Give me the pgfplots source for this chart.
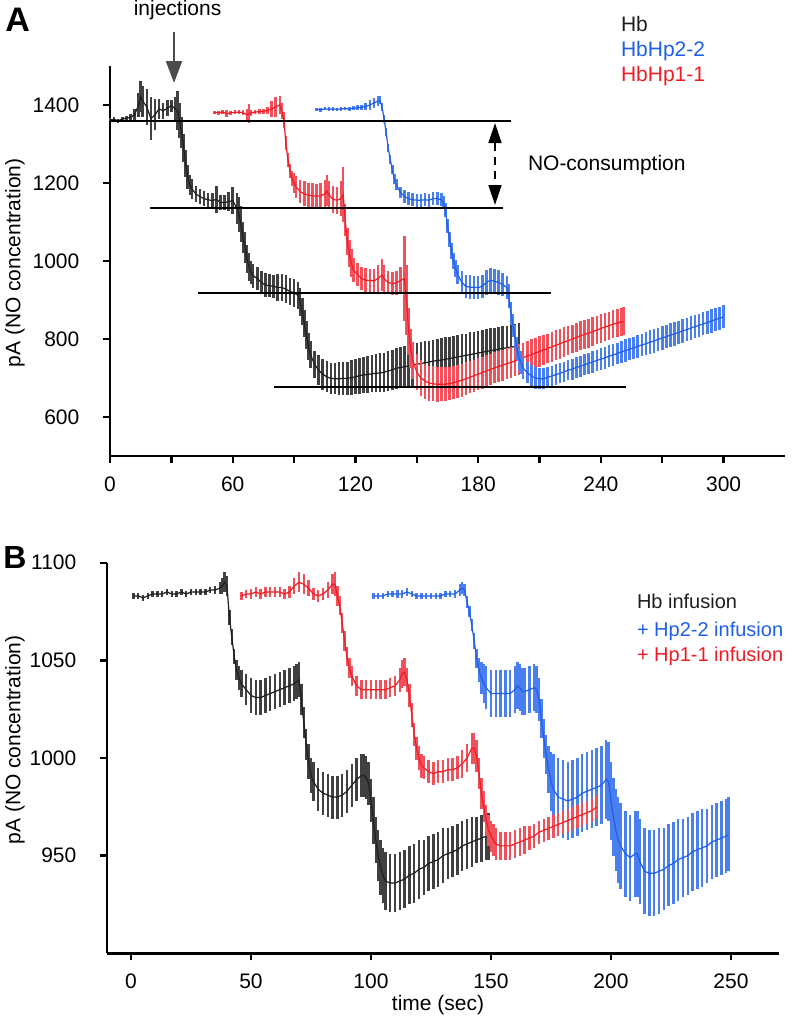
\documentclass[border=0pt]{standalone}
\usepackage{pgfplots}
\pgfplotsset{compat=1.18}
\usepackage{pgfplotstable}
\usepackage{fontspec}
\setmainfont{Liberation Sans}
\usetikzlibrary{arrows.meta}

\definecolor{hbk}{HTML}{1E1E1E}
\definecolor{hbkbar}{HTML}{404040}
\definecolor{hred}{HTML}{EE1C25}
\definecolor{hredbar}{HTML}{F2515B}
\definecolor{hblue}{HTML}{1F5FE6}
\definecolor{hbluebar}{HTML}{4A7FF0}

% panel A: Hb, HbHp2-2, HbHp1-1 (t, mean, error)
\pgfplotstableread[row sep=\\]{
t v e\\
0 1362 4\\ 2 1363 5\\ 4 1360 5\\ 6 1364 6\\ 8 1366 6\\ 10 1368 8\\ 12 1375 15\\ 14 1400 30\\ 15 1421 40\\ 16 1410 40\\
18 1395 45\\ 20 1365 55\\ 22 1375 40\\ 24 1390 25\\ 26 1385 20\\ 28 1392 20\\ 30 1398 15\\ 32 1390 30\\ 33 1385 50\\ 34 1360 45\\
35 1330 40\\ 36 1290 35\\ 37 1250 35\\ 38 1215 30\\ 39 1195 25\\ 40 1185 25\\ 42 1172 20\\ 44 1165 20\\ 46 1160 20\\ 48 1157 18\\
50 1155 20\\ 52 1158 35\\ 54 1150 20\\ 56 1150 20\\ 58 1152 25\\ 60 1155 35\\ 62 1135 40\\ 63 1120 45\\ 64 1095 45\\ 65 1060 40\\
66 1035 40\\ 67 1005 35\\ 68 985 35\\ 69 970 30\\ 70 962 30\\ 72 955 30\\ 74 945 30\\ 76 938 30\\ 78 937 30\\ 80 935 30\\
82 932 35\\ 84 932 35\\ 86 928 35\\ 88 922 35\\ 90 918 35\\ 92 912 35\\ 93 895 35\\ 94 870 35\\ 95 840 35\\ 96 810 35\\
97 780 35\\ 98 760 35\\ 100 735 35\\ 102 720 38\\ 104 710 40\\ 106 703 40\\ 108 699 40\\ 110 698 40\\ 112 698 42\\ 114 699 42\\
116 699 43\\ 118 701 44\\ 120 703 45\\ 122 706 46\\ 124 708 47\\ 126 709 48\\ 128 711 48\\ 130 712 49\\ 132 713 50\\ 134 715 50\\
136 718 51\\ 138 721 52\\ 140 725 52\\ 142 727 53\\ 144 729 53\\ 146 731 54\\ 148 733 54\\ 150 735 55\\ 152 737 55\\ 154 739 55\\
156 741 55\\ 158 743 55\\ 160 745 56\\ 162 746 56\\ 164 748 56\\ 166 750 56\\ 168 752 56\\ 170 754 56\\ 172 756 56\\ 174 758 56\\
176 760 57\\ 178 762 57\\ 180 764 57\\ 182 766 57\\ 184 768 57\\ 186 770 57\\ 188 772 57\\ 190 774 57\\ 192 776 57\\ 194 777 57\\
196 779 57\\ 198 781 57\\ 200 783 57\\
}\aBlack

\pgfplotstableread[row sep=\\]{
t v e\\
51 1381 4\\ 53 1380 5\\ 55 1382 5\\ 57 1378 8\\ 59 1380 5\\ 61 1381 5\\ 63 1382 5\\ 65 1380 6\\ 67 1375 15\\ 68 1378 25\\
69 1380 8\\ 71 1382 5\\ 73 1383 6\\ 75 1384 6\\ 77 1386 8\\ 79 1390 20\\ 81 1395 25\\ 83 1400 22\\ 84 1385 20\\ 85 1362 20\\
86 1302 18\\ 87 1260 18\\ 88 1230 18\\ 89 1212 20\\ 90 1200 25\\ 91 1190 28\\ 93 1178 30\\ 95 1172 32\\ 97 1169 32\\ 99 1167 32\\
101 1166 32\\ 103 1167 32\\ 105 1172 35\\ 106 1180 40\\ 107 1170 35\\ 109 1158 35\\ 111 1156 35\\ 113 1160 45\\ 114 1170 70\\ 115 1105 40\\
116 1050 35\\ 117 1020 35\\ 118 995 35\\ 119 977 30\\ 121 965 30\\ 123 955 30\\ 125 951 30\\ 127 950 30\\ 129 949 30\\ 131 955 35\\
133 964 40\\ 134 955 35\\ 136 945 30\\ 138 942 30\\ 140 944 30\\ 142 950 35\\ 144 955 110\\ 145 900 90\\ 146 820 60\\ 147 775 50\\
148 745 48\\ 150 715 46\\ 152 700 45\\ 154 692 45\\ 156 687 45\\ 158 685 45\\ 160 684 45\\ 162 684 44\\ 164 684 44\\ 166 686 43\\
168 688 43\\ 170 691 42\\ 172 694 42\\ 174 698 42\\ 176 702 41\\ 178 706 41\\ 180 710 41\\ 182 714 41\\ 184 718 41\\ 186 722 40\\
188 726 40\\ 190 730 40\\ 192 733 40\\ 194 737 40\\ 196 740 40\\ 198 744 40\\ 200 748 40\\ 202 752 39\\ 204 756 39\\ 206 760 39\\
208 764 39\\ 210 768 39\\ 212 772 39\\ 214 776 38\\ 216 780 38\\ 218 784 38\\ 220 788 38\\ 222 792 38\\ 224 796 38\\ 226 800 37\\
228 804 37\\ 230 808 37\\ 232 812 37\\ 234 815 37\\ 236 819 37\\ 238 823 37\\ 240 827 36\\ 242 831 36\\ 244 834 36\\ 246 838 36\\
248 841 36\\ 250 844 36\\ 251 845 36\\
}\aRed

\pgfplotstableread[row sep=\\]{
t v e\\
101 1389 4\\ 103 1388 5\\ 105 1390 4\\ 107 1389 5\\ 109 1390 5\\ 111 1389 4\\ 113 1390 5\\ 115 1391 5\\ 117 1390 6\\ 119 1392 6\\
121 1393 7\\ 123 1394 7\\ 125 1396 8\\ 127 1400 12\\ 129 1405 12\\ 131 1410 12\\ 132 1412 10\\ 133 1395 10\\ 134 1365 10\\ 135 1330 10\\
136 1290 10\\ 137 1260 12\\ 138 1235 12\\ 139 1210 12\\ 140 1195 14\\ 142 1176 15\\ 144 1165 16\\ 146 1160 17\\ 148 1157 17\\ 150 1156 17\\
152 1156 17\\ 154 1157 17\\ 156 1156 17\\ 158 1160 17\\ 160 1160 17\\ 162 1157 17\\ 163 1150 17\\ 164 1130 18\\ 165 1090 18\\ 166 1055 20\\
167 1025 20\\ 168 1000 20\\ 169 980 22\\ 170 965 25\\ 172 945 30\\ 174 935 30\\ 176 933 30\\ 178 932 30\\ 180 932 30\\ 182 935 30\\
184 945 32\\ 186 951 32\\ 188 948 32\\ 190 945 32\\ 192 940 30\\ 194 932 30\\ 195 910 30\\ 196 866 30\\ 197 835 30\\ 198 806 30\\
199 775 30\\ 200 750 30\\ 201 740 30\\ 202 725 28\\ 204 714 28\\ 206 705 28\\ 208 700 28\\ 210 698 27\\ 212 698 27\\ 214 702 26\\
216 705 26\\ 218 709 26\\ 220 712 26\\ 222 716 26\\ 224 720 26\\ 226 723 27\\ 228 727 27\\ 230 730 27\\ 232 734 27\\ 234 738 27\\
236 741 28\\ 238 745 28\\ 240 748 28\\ 242 752 28\\ 244 756 28\\ 246 759 28\\ 248 763 28\\ 250 767 29\\ 252 770 29\\ 254 774 29\\
256 777 29\\ 258 781 29\\ 260 785 29\\ 262 788 29\\ 264 792 30\\ 266 795 30\\ 268 799 30\\ 270 803 30\\ 272 806 30\\ 274 810 30\\
276 813 30\\ 278 817 30\\ 280 821 30\\ 282 824 30\\ 284 828 30\\ 286 832 30\\ 288 835 30\\ 290 839 30\\ 292 842 30\\ 294 846 30\\
296 850 30\\ 298 853 30\\ 300 857 30\\
}\aBlue

% panel B: Hb infusion, + Hp2-2, + Hp1-1
\pgfplotstableread[row sep=\\]{
t v e\\
1 1083 1.5\\ 3 1083 1.5\\ 5 1082 1.5\\ 7 1083 1.5\\ 9 1084 1.5\\ 11 1084 1.5\\ 13 1084 1.5\\ 15 1085 1.5\\ 17 1084 1.5\\ 19 1084 1.5\\
21 1085 1.5\\ 23 1084 1.5\\ 25 1085 1.5\\ 27 1085 1.5\\ 29 1085 1.5\\ 31 1085 1.5\\ 33 1086 1.5\\ 35 1086 2\\ 37 1087 3\\ 38 1088 4\\
39 1090 5\\ 40 1088 5\\ 41 1072 4\\ 42 1062 4\\ 43 1052 4\\ 44 1045 5\\ 45 1041 6\\ 46 1038 7\\ 48 1035 8\\ 50 1032 9\\
52 1031 9\\ 54 1031 9\\ 56 1032 9\\ 58 1033 9\\ 60 1034 9\\ 62 1035 9\\ 64 1036 9\\ 66 1037 9\\ 68 1038 9\\ 69 1039 9\\
70 1040 9\\ 71 1030 8\\ 72 1018 8\\ 73 1007 8\\ 74 998 9\\ 75 991 9\\ 76 988 10\\ 78 984 11\\ 80 982 11\\ 82 981 11\\
84 980 11\\ 86 980 11\\ 88 981 11\\ 90 983 11\\ 92 986 11\\ 94 989 11\\ 96 991 11\\ 97 991 11\\ 98 990 11\\ 99 987 11\\
100 978 11\\ 101 968 12\\ 102 958 12\\ 103 950 13\\ 104 944 14\\ 105 940 14\\ 106 937 15\\ 108 936 15\\ 110 936 15\\ 112 937 15\\
114 938 15\\ 116 940 15\\ 118 941 15\\ 120 943 15\\ 122 944 14\\ 124 946 14\\ 126 947 14\\ 128 948 14\\ 130 950 14\\ 132 951 13\\
134 952 13\\ 136 953 13\\ 138 955 13\\ 140 956 13\\ 142 957 13\\ 144 958 12\\ 146 959 12\\ 148 960 12\\ 149 960 12\\
}\bBlack

\pgfplotstableread[row sep=\\]{
t v e\\
46 1083 2\\ 48 1084 2\\ 50 1084 2.5\\ 52 1085 2.5\\ 54 1084 2.5\\ 56 1085 2.5\\ 58 1085 2.5\\ 60 1085 2.5\\ 62 1085 2.5\\ 64 1084 2.5\\
66 1085 3\\ 68 1088 4\\ 70 1090 5\\ 72 1089 5\\ 74 1087 4\\ 76 1084 3\\ 78 1083 3\\ 80 1084 3\\ 82 1086 4\\ 84 1089 5\\
85 1089 6\\ 86 1083 5\\ 87 1078 5\\ 88 1069 5\\ 89 1060 5\\ 90 1052 5\\ 91 1046 5\\ 92 1042 5\\ 94 1037 5\\ 96 1035 5\\
98 1035 5\\ 100 1035 5\\ 102 1035 5\\ 104 1035 5\\ 106 1035 5\\ 108 1036 5\\ 110 1037 5\\ 112 1040 6\\ 113 1043 7\\ 114 1044 7\\
115 1040 6\\ 116 1032 6\\ 117 1022 6\\ 118 1012 6\\ 119 1005 6\\ 120 1000 6\\ 121 996 6\\ 122 995 6\\ 124 993 6\\ 126 992 6\\
128 993 6\\ 130 993 6\\ 132 994 6\\ 134 994 6\\ 136 995 6\\ 138 997 7\\ 140 1000 7\\ 142 1005 8\\ 143 1005 8\\ 144 1001 8\\
145 992 8\\ 146 982 8\\ 147 975 8\\ 148 968 8\\ 149 963 8\\ 150 960 8\\ 151 958 8\\ 152 956 8\\ 154 955 7\\ 156 955 7\\
158 955 7\\ 160 956 7\\ 162 957 7\\ 164 958 7\\ 166 959 6\\ 168 960 6\\ 170 962 6\\ 172 963 6\\ 174 964 6\\ 176 965 6\\
178 966 6\\ 180 967 6\\ 182 968 6\\ 184 969 6\\ 186 970 6\\ 188 971 6\\ 190 972 6\\ 192 973 6\\ 194 975 6\\
}\bRed

\pgfplotstableread[row sep=\\]{
t v e\\
101 1083 1.5\\ 103 1083 1.5\\ 105 1083 1.5\\ 107 1084 1.5\\ 109 1084 1.5\\ 111 1084 2\\ 113 1084 2\\ 115 1085 2\\ 117 1084 1.5\\ 119 1083 1.5\\
121 1083 1.5\\ 123 1083 1.5\\ 125 1083 1.5\\ 127 1083 1.5\\ 129 1083 1.5\\ 131 1084 1.5\\ 133 1084 1.5\\ 135 1084 2\\ 137 1086 3\\ 138 1087 3\\
139 1086 3\\ 140 1080 3\\ 141 1075 3\\ 142 1068 3\\ 143 1060 4\\ 144 1051 5\\ 145 1045 6\\ 146 1041 8\\ 147 1038 10\\ 148 1036 11\\
150 1033 12\\ 152 1033 12\\ 154 1033 12\\ 156 1033 12\\ 158 1033 12\\ 160 1035 12\\ 161 1037 12\\ 162 1036 12\\ 163 1034 12\\ 164 1034 12\\
166 1035 12\\ 168 1036 12\\ 169 1035 12\\ 170 1030 11\\ 171 1020 10\\ 172 1010 10\\ 173 1002 10\\ 174 994 12\\ 175 988 15\\ 176 984 18\\
178 980 20\\ 180 979 20\\ 182 978 20\\ 184 979 20\\ 186 980 20\\ 188 982 20\\ 190 983 20\\ 192 984 20\\ 194 985 20\\ 196 986 20\\
198 989 20\\ 199 988 20\\ 200 978 20\\ 201 970 20\\ 202 963 21\\ 203 958 22\\ 204 955 22\\ 206 951 22\\ 208 949 22\\ 210 951 22\\
211 951 22\\ 212 947 22\\ 214 942 22\\ 216 941 22\\ 218 941 22\\ 220 942 22\\ 222 943 21\\ 224 945 21\\ 226 946 21\\ 228 948 21\\
230 949 20\\ 232 950 20\\ 234 952 20\\ 236 953 20\\ 238 954 20\\ 240 955 19\\ 242 957 19\\ 244 958 19\\ 246 959 19\\ 248 960 19\\
249 961 19\\
}\bBlue

\pgfplotsset{
  panel/.style={
    scale only axis,
    axis x line*=bottom,
    axis y line*=left,
    axis line style={line width=1.4pt},
    tick align=outside,
    major tick length=3.5pt,
    minor tick length=3.5pt,
    every tick/.style={black, line width=1.2pt},
    tick label style={font=\fontsize{10.5}{12}\selectfont},
    /pgf/number format/assume math mode=true,
    /pgf/number format/1000 sep={},
    xticklabel style={yshift=-3.3pt},
    yticklabel style={xshift=-8.3pt},
    clip=false,
  },
  bars/.style={draw=none, forget plot, mark=none,
    error bars/.cd, y dir=both, y explicit, error mark=none,
    error bar style={draw=#1, line width=1.25pt}},
  trace/.style={draw=#1, line width=0.6pt, mark=none},
}

\begin{document}
\begin{tikzpicture}
\path[use as bounding box] (0,0) rectangle (396pt,-511.5pt);

% ---------- panel A ----------
\begin{axis}[panel,
  at={(55pt,-228pt)}, anchor=south west,
  width=337.5pt, height=195pt,
  xmin=0, xmax=330, ymin=500, ymax=1500,
  xtick={0,60,...,300}, minor xtick={30,90,...,270},
  ytick={600,800,...,1400},
]
\addplot[bars=hbkbar] table[x=t, y=v, y error=e] {\aBlack};
\addplot[trace=hbk] table[x=t, y=v] {\aBlack};
\addplot[bars=hredbar] table[x=t, y=v, y error=e] {\aRed};
\addplot[trace=hred] table[x=t, y=v] {\aRed};
\addplot[bars=hbluebar] table[x=t, y=v, y error=e] {\aBlue};
\addplot[trace=hblue] table[x=t, y=v] {\aBlue};
% baseline levels
\addplot[black, line width=1pt] coordinates {(0,1360) (196,1360)};
\addplot[black, line width=1pt] coordinates {(19.5,1137) (192,1137)};
\addplot[black, line width=1pt] coordinates {(43,917) (215.5,917)};
\addplot[black, line width=1pt] coordinates {(80,676) (252.5,676)};
\end{axis}

% ---------- panel B ----------
\begin{axis}[panel,
  at={(53.5pt,-476.65pt)}, anchor=south west,
  width=336pt, height=195.3pt,
  xmin=-10, xmax=270, ymin=900, ymax=1100,
  xtick={0,50,...,250},
  ytick={950,1000,1050,1100},
]
\addplot[bars=hbkbar] table[x=t, y=v, y error=e] {\bBlack};
\addplot[trace=hbk] table[x=t, y=v] {\bBlack};
\addplot[bars=hbluebar] table[x=t, y=v, y error=e] {\bBlue};
\addplot[trace=hblue] table[x=t, y=v] {\bBlue};
\addplot[bars=hredbar] table[x=t, y=v, y error=e] {\bRed};
\addplot[trace=hred] table[x=t, y=v] {\bRed};
\end{axis}

% panel letters
\node[anchor=base west, inner sep=0pt, font=\fontsize{17}{17}\selectfont\bfseries] at (2.5pt,-15.8pt) {A};
\node[anchor=base west, inner sep=0pt, font=\fontsize{16}{16}\selectfont\bfseries] at (1.5pt,-284.2pt) {B};

% axis titles
\node[rotate=90, font=\fontsize{10.5}{12}\selectfont] at (7.5pt,-131.5pt) {pA (NO concentration)};
\node[rotate=90, font=\fontsize{10.5}{12}\selectfont] at (7.5pt,-370pt) {pA (NO concentration)};
\node[font=\fontsize{10.5}{12}\selectfont] at (219pt,-502.5pt) {time (sec)};

% annotations panel A
\node[anchor=base west, inner sep=0pt, font=\fontsize{10.5}{12}\selectfont] at (66.7pt,-7.8pt) {injections};
\draw[line width=1pt, draw=black!70, -{Triangle[length=11pt, width=8pt]}] (87pt,-16pt) -- (87pt,-41.5pt);
\draw[line width=0.8pt, dash pattern=on 4pt off 3pt,
  {Triangle[length=10pt, width=6.5pt]}-{Triangle[length=10pt, width=6.5pt]}] (247.5pt,-61.5pt) -- (247.5pt,-102.5pt);
\node[anchor=base west, inner sep=0pt, font=\fontsize{10.5}{12}\selectfont] at (263.8pt,-85.3pt) {NO-consumption};

\node[anchor=base west, inner sep=0pt, font=\fontsize{10.5}{12}\selectfont, text=hbk] at (310.3pt,-15.8pt) {Hb};
\node[anchor=base west, inner sep=0pt, font=\fontsize{10.5}{12}\selectfont, text=hblue] at (310.3pt,-28.3pt) {HbHp2-2};
\node[anchor=base west, inner sep=0pt, font=\fontsize{10.5}{12}\selectfont, text=hred] at (310.3pt,-40.8pt) {HbHp1-1};

% legend panel B
\node[anchor=base west, inner sep=0pt, font=\fontsize{10}{12}\selectfont, text=hbk] at (318.3pt,-304.2pt) {Hb infusion};
\node[anchor=base west, inner sep=0pt, font=\fontsize{10}{12}\selectfont, text=hblue] at (318.3pt,-318pt) {+ Hp2-2 infusion};
\node[anchor=base west, inner sep=0pt, font=\fontsize{10}{12}\selectfont, text=hred] at (318.3pt,-330.5pt) {+ Hp1-1 infusion};
\end{tikzpicture}
\end{document}
